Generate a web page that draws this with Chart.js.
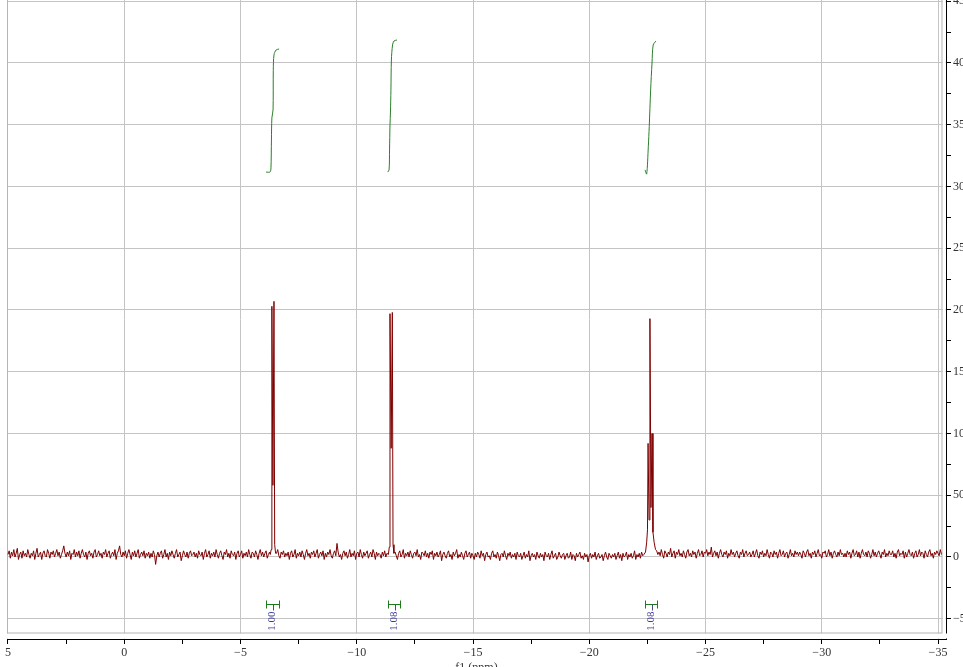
<!DOCTYPE html>
<html>
<head>
<meta charset="utf-8">
<title>f1 spectrum</title>
<script src="https://cdn.jsdelivr.net/npm/chart.js@4/dist/chart.umd.min.js"></script>
<style>
  html, body { margin: 0; padding: 0; background: #fff; overflow: hidden; }
  #wrap { position: absolute; left: 0; top: -10px; width: 986px; height: 689px; }
</style>
</head>
<body>
<div id="wrap"><canvas id="nmrChart"></canvas></div>
<script>
// spectrum baseline, one value every 0.05 ppm starting at 5.0 ppm
const ppmStart = 5.0;
const ppmStep = 0.05;
const baseline = [
  2,5,-1,4,1,6,0,3,7,-2,2,4,-1,5,1,3,0,6,2,-1,3,1,5,-2,3,7,0,2,4,-2,3,5,1,0,6,3,-1,4,2,5,
  0,3,6,1,4,-1,2,5,9,3,0,4,1,5,-2,3,2,6,0,4,1,5,-1,3,6,2,0,4,-2,3,5,1,3,-1,4,6,0,2,5,1,
  3,-1,4,2,6,0,3,5,-1,2,4,1,6,-2,3,5,9,2,0,4,1,5,-1,3,6,2,-2,4,1,5,0,3,6,-1,2,4,1,5,-1,3,
  1,4,-1,3,0,5,2,-6,1,4,0,3,5,-1,2,6,0,3,-2,4,1,5,2,-1,3,6,0,2,4,-3,1,5,2,0,4,-1,3,5,1,2,
  4,0,3,-1,5,2,1,4,-2,3,6,0,2,5,-1,3,1,4,0,6,2,-1,3,5,1,-2,4,2,6,0,3,-1,5,2,1,4,-2,3,5,0,
  2,5,-1,3,1,4,0,6,2,-1,4,3,0,5,2,-2,3,6,1,4,0,3,5,-1,2,4,0,0,0,0,0,3,6,1,-1,4,2,5,0,3,
  1,4,-2,3,5,0,2,6,-1,3,1,4,0,5,2,-2,3,6,1,3,-1,4,2,5,0,3,6,-1,2,4,1,5,-2,3,0,4,2,6,1,-1,
  3,5,1,11,4,0,2,-2,3,5,1,4,-1,2,6,0,3,1,5,-2,3,4,0,6,2,-1,4,1,3,5,-1,2,4,0,6,3,-2,4,1,3,
  2,-1,4,1,5,0,3,0,0,0,0,0,0,4,1,-2,3,5,0,2,6,-1,3,1,4,0,5,2,-1,3,4,1,6,0,2,-2,4,3,1,5,
  0,3,-1,4,2,5,-2,3,1,4,0,2,5,-3,2,4,1,-1,3,5,0,2,-2,4,1,3,6,-1,2,0,4,1,-2,3,5,0,2,4,-1,3,
  1,-2,3,0,4,2,-1,5,1,3,-3,2,4,0,1,-2,3,5,0,2,-1,4,1,-3,2,3,0,5,1,-2,3,1,4,-1,2,0,3,-2,4,1,
  0,3,-2,1,4,-1,2,0,5,-3,1,3,0,2,-2,4,1,-1,3,0,2,-3,4,1,0,3,-2,2,5,-1,1,3,-2,0,4,1,-1,2,3,-2,
  1,3,-1,0,4,-2,2,1,-3,3,0,2,4,-1,1,-2,3,0,2,-4,1,3,-1,2,0,4,-2,1,3,-1,0,2,-3,1,4,0,-2,3,1,-1,
  2,0,3,-2,1,4,-1,2,-3,3,0,1,4,-2,2,0,3,-1,1,5,-2,2,0,3,-1,4,1,2,0,0,0,0,0,0,0,0,0,0,5,2,
  4,1,6,2,-1,5,3,0,4,2,7,0,3,5,-1,4,2,6,1,3,0,5,2,-1,4,6,1,3,0,5,2,4,-1,3,6,1,2,5,0,4,
  3,6,1,4,2,8,0,3,5,1,4,-1,3,6,2,0,4,2,5,-1,3,1,6,2,4,0,3,5,1,-1,4,2,6,0,3,5,1,2,4,0,
  2,5,0,3,6,1,-1,4,2,5,0,3,1,6,2,-1,4,3,0,5,2,4,-1,3,6,1,2,5,0,3,4,-1,2,6,1,3,0,5,2,4,
  1,4,2,-1,5,3,0,4,6,1,3,-1,4,2,5,0,3,6,1,2,-1,4,3,5,0,2,6,1,4,-1,3,5,2,0,4,1,6,2,3,0,
  3,0,5,2,4,-1,3,6,1,2,5,0,4,-1,3,6,2,1,4,0,5,3,-1,2,6,1,4,0,3,5,2,-1,4,2,6,0,3,1,5,2,
  2,5,0,3,-1,4,6,1,3,2,5,-1,4,0,3,6,2,1,4,-1,3,5,0,2,6,1,4,3,-1,5,2,0,4,6,1,3,-1,4,2,5,
  3,1,6,2
];

// peak regions (replace the baseline inside each window)
const peakWindows = [[-6.25, -6.55], [-11.33, -11.63], [-22.38, -22.88]];
const peakPpm = [
  -6.28, -6.32, -6.35, -6.395, -6.44, -6.47, -6.51,
  -11.36, -11.40, -11.43, -11.48, -11.53, -11.56, -11.60,
  -22.42, -22.47, -22.505, -22.53, -22.57, -22.61, -22.655, -22.70, -22.74, -22.79, -22.85
];
const peakVal = [
  2, 6, 203, 58, 207, 10, 3,
  2, 8, 197, 88, 198, 10, 3,
  4, 12, 22, 92, 30, 193, 40, 100, 20, 12, 6
];

// integral curves
const int1Ppm = [-6.10, -6.27, -6.31, -6.33, -6.35, -6.40, -6.41, -6.44, -6.53, -6.66];
const int1Val = [311.7, 311.7, 315, 337.6, 355.5, 362, 394, 406.5, 410.5, 411.3];
const int2Ppm = [-11.33, -11.39, -11.41, -11.43, -11.45, -11.47, -11.49, -11.54, -11.60, -11.73];
const int2Val = [311.7, 313.4, 329.6, 349.8, 360.3, 378, 402.4, 414.6, 417.8, 418.6];
const int3Ppm = [-22.40, -22.47, -22.54, -22.58, -22.64, -22.70, -22.75, -22.87];
const int3Val = [313.4, 310.1, 332.2, 348.4, 378.1, 400, 414.6, 417.8];

// integral marks under the peaks
const integralRanges = [[-6.10, -6.64], [-11.33, -11.86], [-22.40, -22.93]];
const integralLabels = ['1.00', '1.08', '1.08'];

function buildSpectrum() {
  const pts = [];
  baseline.forEach((v, i) => {
    const ppm = Math.round((ppmStart - i * ppmStep) * 100) / 100;
    const inPeak = peakWindows.some(w => ppm < w[0] && ppm > w[1]);
    if (!inPeak) pts.push({ x: ppm, y: v });
  });
  peakPpm.forEach((p, i) => pts.push({ x: p, y: peakVal[i] }));
  pts.sort((a, b) => b.x - a.x);
  return pts;
}

function toPoints(xs, ys) {
  return xs.map((x, i) => ({ x: x, y: ys[i] }));
}

function fmtNum(v) {
  return v < 0 ? '\u2212' + Math.abs(v) : String(v);
}

const framePlugin = {
  id: 'frame',
  beforeDatasetsDraw(chart) {
    const ctx = chart.ctx;
    const a = chart.chartArea;
    const xs = chart.scales.x;
    const fr = xs.getPixelForValue(-35.15);
    ctx.save();
    ctx.fillStyle = '#fff';
    ctx.fillRect(a.left - 1, 633.5 + 10, a.right - a.left + 2, 5);
    ctx.fillRect(fr + 1, a.top - 1, a.right - fr - 1.5, a.bottom - a.top + 0.5);
    ctx.strokeStyle = '#b4b4b4';
    ctx.lineWidth = 1;
    ctx.strokeRect(a.left + 0.5, a.top - 2, fr - a.left, 633 + 10 - a.top + 2);
    ctx.restore();
  },
  afterDatasetsDraw(chart) {
    const ctx = chart.ctx;
    const xs = chart.scales.x;
    const ys = chart.scales.y;
    const yb = Math.round(ys.getPixelForValue(-38)) + 0.5;
    ctx.save();
    integralRanges.forEach((r, i) => {
      const x1 = Math.round(xs.getPixelForValue(r[0])) + 0.5;
      const x2 = Math.round(xs.getPixelForValue(r[1])) + 0.5;
      const cx = Math.round((x1 + x2) / 2) + 0.5;
      ctx.strokeStyle = '#1d7a1d';
      ctx.lineWidth = 1;
      ctx.beginPath();
      ctx.moveTo(x1, yb); ctx.lineTo(x2, yb);
      ctx.moveTo(x1, yb - 4); ctx.lineTo(x1, yb + 4);
      ctx.moveTo(x2, yb - 4); ctx.lineTo(x2, yb + 4);
      ctx.stroke();
      ctx.strokeStyle = '#4a4a8a';
      ctx.beginPath();
      ctx.moveTo(cx, yb); ctx.lineTo(cx, yb + 6);
      ctx.stroke();
      ctx.translate(cx - 1, yb + 7);
      ctx.rotate(-Math.PI / 2);
      ctx.fillStyle = '#3b3b9a';
      ctx.font = '11px "Liberation Serif", serif';
      ctx.textAlign = 'right';
      ctx.textBaseline = 'middle';
      ctx.fillText(integralLabels[i], 0, 0);
      ctx.setTransform(1, 0, 0, 1, 0, 0);
    });
    ctx.restore();
  }
};

const serif = '"Liberation Serif", "DejaVu Serif", serif';

new Chart(document.getElementById('nmrChart').getContext('2d'), {
  type: 'line',
  data: {
    datasets: [
      { data: buildSpectrum(), borderColor: '#7d0000', borderWidth: 1, pointRadius: 0, tension: 0 },
      { data: toPoints(int1Ppm, int1Val), borderColor: '#2a7f2a', borderWidth: 1, pointRadius: 0, tension: 0.3 },
      { data: toPoints(int2Ppm, int2Val), borderColor: '#2a7f2a', borderWidth: 1, pointRadius: 0, tension: 0.3 },
      { data: toPoints(int3Ppm, int3Val), borderColor: '#2a7f2a', borderWidth: 1, pointRadius: 0, tension: 0.3 }
    ]
  },
  options: {
    responsive: true,
    maintainAspectRatio: false,
    animation: false,
    layout: { padding: { top: 10, left: 7, right: 0, bottom: 0 } },
    plugins: { legend: { display: false }, tooltip: { enabled: false } },
    scales: {
      x: {
        type: 'linear',
        reverse: true,
        min: -35.344,
        max: 5.043,
        afterFit: s => { s.height = 40; },
        border: { color: '#000', width: 1 },
        grid: {
          color: c => (c.tick && Math.abs(c.tick.value % 5) < 1e-6) ? '#c4c4c4' : 'rgba(0,0,0,0)',
          tickColor: '#000',
          tickLength: 5
        },
        ticks: {
          stepSize: 2.5,
          includeBounds: false,
          autoSkip: false,
          maxRotation: 0,
          padding: 2,
          color: '#333',
          font: { family: serif, size: 12 },
          callback: v => (Math.abs(v % 5) < 1e-6) ? fmtNum(v) : ''
        },
        title: {
          display: true,
          text: 'f1 (ppm)',
          color: '#333',
          padding: { top: 0 },
          font: { family: serif, size: 12 }
        }
      },
      y: {
        type: 'linear',
        position: 'right',
        min: -66.4,
        max: 451,
        afterFit: s => { s.width = 40; },
        border: { color: '#000', width: 1 },
        grid: {
          color: c => (c.tick && Math.abs(c.tick.value % 50) < 1e-6) ? '#c4c4c4' : 'rgba(0,0,0,0)',
          tickColor: '#000',
          tickLength: 5
        },
        ticks: {
          stepSize: 25,
          includeBounds: false,
          autoSkip: false,
          padding: 2,
          color: '#333',
          font: { family: serif, size: 12 },
          callback: v => (Math.abs(v % 50) < 1e-6) ? fmtNum(v) : ''
        }
      }
    }
  },
  plugins: [framePlugin]
});
</script>
</body>
</html>
